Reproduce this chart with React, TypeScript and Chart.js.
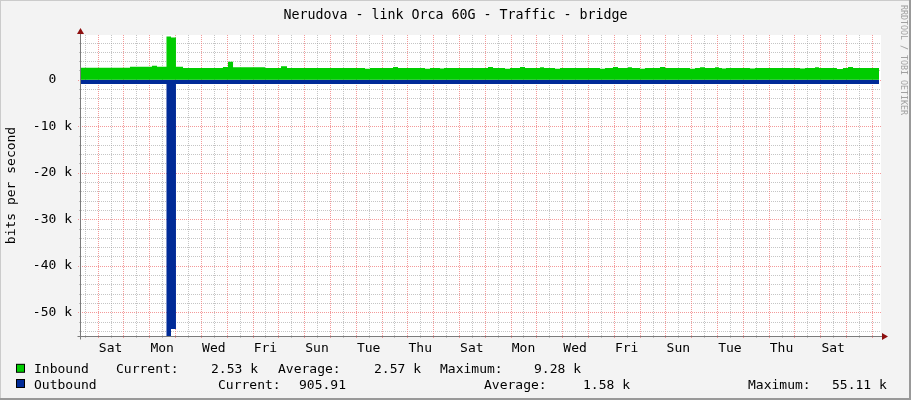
import React, { useEffect, useRef } from 'react';
import { Chart, registerables } from 'chart.js';

Chart.register(...registerables);

// ---- text ----
const TITLE = 'Nerudova - link Orca 60G - Traffic - bridge';
const Y_TITLE = 'bits per second';
const WATERMARK = 'RRDTOOL / TOBI OETIKER';

// ---- x axis (hours since start of the graph) ----
const X_MAX = 744;
const dayLabels = ['Sat', 'Mon', 'Wed', 'Fri', 'Sun', 'Tue', 'Thu', 'Sat', 'Mon', 'Wed', 'Fri', 'Sun', 'Tue', 'Thu', 'Sat'];
const dayLabelHours = [27.5, 75.5, 123.5, 171.5, 219.5, 267.5, 315.5, 363.5, 411.5, 459.5, 507.5, 555.5, 603.5, 651.5, 699.5];

// ---- y axis ----
const Y_MIN = -55110;
const Y_MAX = 9620;
const yTickValues = [0, -10000, -20000, -30000, -40000, -50000];

// ---- series (hour where a level starts, bits per second) ----
const inboundHours = [0, 45.6, 66, 70.7, 79.5, 83.7, 88.3, 94.9, 132, 136.7, 141.4, 171.1, 186, 191.6, 264.1, 268.8, 290.2, 294.8, 319.9, 324.6, 333.9, 337.6, 378.5, 383.2, 394.3, 399, 408.3, 412.9, 426.9, 430.6, 440.8, 445.5, 482.7, 487.3, 494.7, 499.4, 508.7, 512.4, 519.9, 524.5, 538.5, 543.1, 566.4, 571, 575.7, 580.3, 589.6, 593.3, 596.1, 599.8, 622.2, 626.8, 668.7, 673.3, 682.6, 686.3, 703, 708.6, 713.3, 718, 742.2];
const inboundBits = [2600, 2780, 3000, 2780, 9280, 9100, 2800, 2520, 2750, 3850, 2700, 2550, 2900, 2550, 2350, 2550, 2750, 2550, 2380, 2550, 2400, 2550, 2750, 2550, 2380, 2550, 2720, 2550, 2700, 2550, 2380, 2550, 2380, 2550, 2720, 2550, 2700, 2550, 2380, 2550, 2720, 2550, 2380, 2550, 2700, 2550, 2700, 2550, 2400, 2550, 2400, 2550, 2400, 2550, 2700, 2550, 2330, 2550, 2720, 2530, 2530];

const outboundHours = [0, 79.5, 83.7, 88.3, 742.2];
const outboundBits = [900, 55110, 53600, 900, 900];

// ---- legend ----
const legendNames = ['Inbound', 'Outbound'];
const legendColors = ['#00CC00', '#002A97'];
const inboundStats = ['Current:', '2.53 k', 'Average:', '2.57 k', 'Maximum:', '9.28 k'];
const outboundStats = ['Current:', '905.91', 'Average:', '1.58 k', 'Maximum:', '55.11 k'];
const inboundStatX = [116, 211, 278, 374, 440, 534];
const outboundStatX = [218, 299, 484, 583, 748, 832];

const FONT = '"DejaVu Sans Mono", monospace';
const BG = '#F3F3F3';

export default function App() {
  const ref = useRef<HTMLCanvasElement>(null);

  useEffect(() => {
    const canvas = ref.current;
    if (!canvas) return;

    const rrdPlugin = {
      id: 'rrdDecor',
      beforeDraw(chart: any) {
        const { ctx, chartArea: a, width, height } = chart;
        const xs = chart.scales.x;
        const ys = chart.scales.y;
        ctx.save();
        ctx.fillStyle = BG;
        ctx.fillRect(0, 0, width, height);
        ctx.fillStyle = '#CBCBCB';
        ctx.fillRect(0, 0, width, 1);
        ctx.fillRect(0, 0, 1, height);
        ctx.fillStyle = '#999999';
        ctx.fillRect(0, height - 2, width, 2);
        ctx.fillRect(width - 2, 0, 2, height);
        ctx.fillStyle = '#FFFFFF';
        ctx.fillRect(a.left, a.top, a.right - a.left, a.bottom - a.top);

        ctx.lineWidth = 1;
        ctx.setLineDash([1, 1]);
        // minor horizontal
        ctx.strokeStyle = 'rgba(150,150,150,0.55)';
        for (let v = -54000; v <= Y_MAX; v += 2000) {
          if (v % 10000 === 0) continue;
          const y = Math.round(ys.getPixelForValue(v)) + 0.5;
          ctx.beginPath();
          ctx.moveTo(a.left - 2, y);
          ctx.lineTo(a.right, y);
          ctx.stroke();
        }
        // minor vertical (12h)
        for (let h = 3.5; h < X_MAX; h += 24) {
          const x = Math.round(xs.getPixelForValue(h)) + 0.5;
          ctx.beginPath();
          ctx.moveTo(x, a.top);
          ctx.lineTo(x, a.bottom + 2);
          ctx.stroke();
        }
        // major
        ctx.strokeStyle = 'rgba(240,120,120,0.75)';
        for (let v = -50000; v <= Y_MAX; v += 10000) {
          const y = Math.round(ys.getPixelForValue(v)) + 0.5;
          ctx.beginPath();
          ctx.moveTo(a.left - 3, y);
          ctx.lineTo(a.right, y);
          ctx.stroke();
        }
        for (let h = 15.5; h < X_MAX; h += 24) {
          const x = Math.round(xs.getPixelForValue(h)) + 0.5;
          ctx.beginPath();
          ctx.moveTo(x, a.top);
          ctx.lineTo(x, a.bottom + 3);
          ctx.stroke();
        }
        ctx.restore();
      },
      afterDatasetsDraw(chart: any) {
        const { ctx, chartArea: a } = chart;
        ctx.save();
        ctx.setLineDash([]);
        ctx.strokeStyle = '#7A7A7A';
        ctx.lineWidth = 1;
        const ax = a.left - 0.5;
        const ay = a.bottom + 0.5;
        ctx.beginPath();
        ctx.moveTo(ax, a.top - 4);
        ctx.lineTo(ax, ay + 3);
        ctx.moveTo(ax - 3, ay);
        ctx.lineTo(a.right + 2, ay);
        ctx.stroke();
        ctx.fillStyle = '#8E1010';
        ctx.beginPath();
        ctx.moveTo(ax, a.top - 7);
        ctx.lineTo(ax - 3.5, a.top - 1);
        ctx.lineTo(ax + 3.5, a.top - 1);
        ctx.closePath();
        ctx.fill();
        ctx.beginPath();
        ctx.moveTo(a.right + 7, ay);
        ctx.lineTo(a.right + 1, ay - 3.5);
        ctx.lineTo(a.right + 1, ay + 3.5);
        ctx.closePath();
        ctx.fill();
        ctx.restore();
      },
      afterDraw(chart: any) {
        const { ctx } = chart;
        ctx.save();
        ctx.fillStyle = '#000';
        ctx.textBaseline = 'alphabetic';
        // title
        ctx.font = `13.3px ${FONT}`;
        ctx.textAlign = 'center';
        ctx.fillText(TITLE, 455.5, 19);
        // y title
        ctx.font = `13px ${FONT}`;
        ctx.save();
        ctx.translate(14.5, 185.5);
        ctx.rotate(-Math.PI / 2);
        ctx.fillText(Y_TITLE, 0, 0);
        ctx.restore();
        // watermark
        ctx.save();
        ctx.font = `8.3px ${FONT}`;
        ctx.fillStyle = '#A0A0A0';
        ctx.textAlign = 'left';
        ctx.translate(901, 5);
        ctx.rotate(Math.PI / 2);
        ctx.fillText(WATERMARK, 0, 0);
        ctx.restore();
        // legend
        ctx.font = `13px ${FONT}`;
        ctx.textAlign = 'left';
        const rows = [inboundStats, outboundStats];
        const rowX = [inboundStatX, outboundStatX];
        const baselines = [373.3, 388.5];
        for (let r = 0; r < 2; r++) {
          const by = baselines[r];
          ctx.fillStyle = '#000';
          ctx.fillRect(16, by - 9.5, 9, 9);
          ctx.fillStyle = legendColors[r];
          ctx.fillRect(17, by - 8.5, 7, 7);
          ctx.fillStyle = '#000';
          ctx.fillText(legendNames[r], 34, by);
          rows[r].forEach((t, i) => ctx.fillText(t, rowX[r][i], by));
        }
        ctx.restore();
      },
    };

    const chart = new Chart(canvas, {
      type: 'line',
      data: {
        datasets: [
          {
            label: legendNames[0],
            data: inboundHours.map((h, i) => ({ x: h, y: inboundBits[i] })),
            stepped: true,
            fill: 'origin',
            backgroundColor: legendColors[0],
            borderColor: 'rgba(0,0,0,0)',
            borderWidth: 0,
            pointRadius: 0,
          },
          {
            label: legendNames[1],
            data: outboundHours.map((h, i) => ({ x: h, y: -outboundBits[i] })),
            stepped: true,
            fill: 'origin',
            backgroundColor: legendColors[1],
            borderColor: 'rgba(0,0,0,0)',
            borderWidth: 0,
            pointRadius: 0,
          },
        ],
      },
      options: {
        animation: false,
        responsive: false,
        events: [],
        layout: { padding: { left: 0, top: 35, right: 30, bottom: 0 } },
        plugins: { legend: { display: false }, title: { display: false }, tooltip: { enabled: false } },
        scales: {
          x: {
            type: 'linear',
            min: 0,
            max: X_MAX,
            grid: { display: false, drawTicks: false },
            border: { display: false },
            afterBuildTicks: (s: any) => {
              s.ticks = dayLabelHours.map((v) => ({ value: v }));
            },
            afterFit: (s: any) => {
              s.height = 64;
            },
            ticks: {
              autoSkip: false,
              maxRotation: 0,
              minRotation: 0,
              padding: 5,
              color: '#000',
              font: { family: FONT, size: 13 },
              callback: (_v: any, i: number) => dayLabels[i],
            },
          },
          y: {
            type: 'linear',
            min: Y_MIN,
            max: Y_MAX,
            grid: { display: false, drawTicks: false },
            border: { display: false },
            afterBuildTicks: (s: any) => {
              s.ticks = yTickValues.map((v) => ({ value: v }));
            },
            afterFit: (s: any) => {
              s.width = 81;
            },
            ticks: {
              autoSkip: false,
              padding: 9,
              color: '#000',
              font: { family: FONT, size: 13 },
              callback: (v: any) => (v === 0 ? '0  ' : `${v / 1000} k`),
            },
          },
        },
      },
      plugins: [rrdPlugin],
    });

    return () => chart.destroy();
  }, []);

  return (
    <div style={{ position: 'absolute', left: 0, top: 0, width: 911, height: 400 }}>
      <canvas ref={ref} width={911} height={400} style={{ display: 'block' }} />
    </div>
  );
}
